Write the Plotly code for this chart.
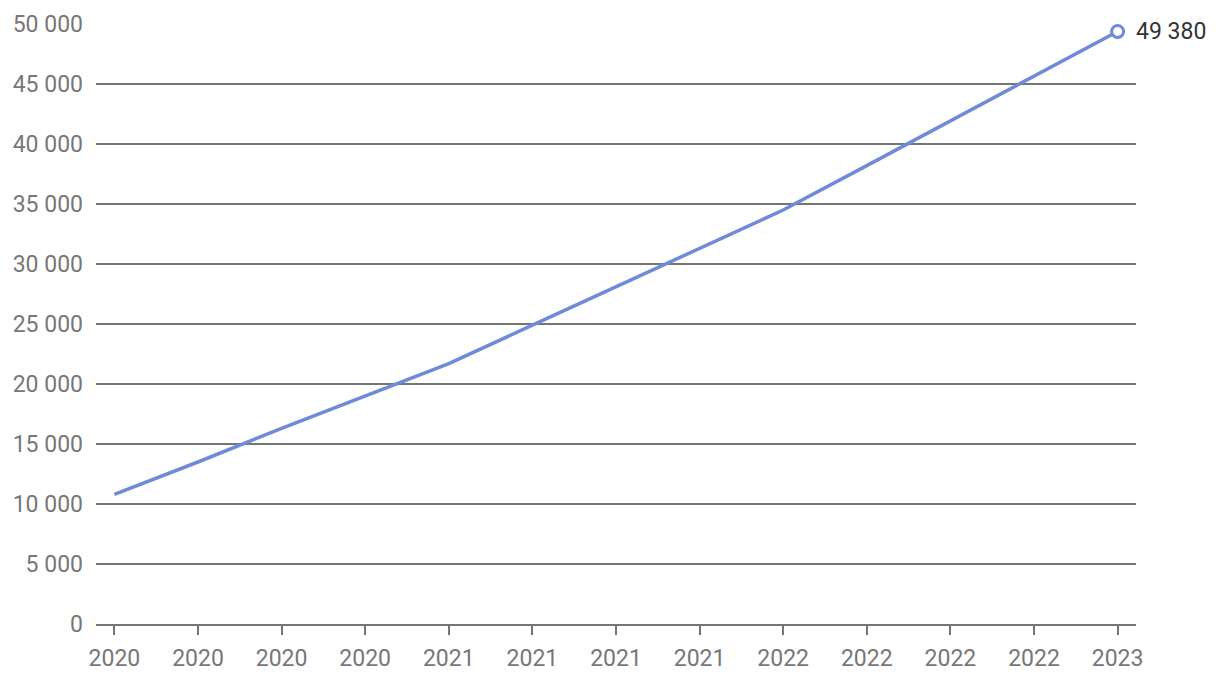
import plotly.graph_objects as go

# quarterly values
quarters = ["2020", "2020", "2020", "2020",
            "2021", "2021", "2021", "2021",
            "2022", "2022", "2022", "2022",
            "2023"]
values = [10800, 13500, 16300, 19000,
          21700, 24900, 28100, 31300,
          34500, 38200, 41950, 45700,
          49380]

line_color = "#6f8ad8"
grid_color = "#757575"
tick_font = dict(family="Roboto", size=23, color="#777777")

xs = list(range(len(values)))

fig = go.Figure()
fig.add_trace(go.Scatter(
    x=xs, y=values, mode="lines",
    line=dict(color=line_color, width=3.5),
    hoverinfo="skip", showlegend=False,
))
# end point marker
fig.add_trace(go.Scatter(
    x=[xs[-1]], y=[values[-1]], mode="markers",
    marker=dict(size=12, color="white", line=dict(color=line_color, width=3)),
    cliponaxis=False, showlegend=False, hoverinfo="skip",
))
fig.add_annotation(
    x=xs[-1], y=values[-1],
    text=f"{values[-1]:,}".replace(",", " "),
    showarrow=False, xanchor="left", xshift=16,
    font=dict(family="Roboto", size=23, color="#333333"),
)

# page body has an 8px margin, so the figure is drawn 8px smaller
fig.update_layout(
    width=1212, height=676,
    margin=dict(l=88, r=84, t=16, b=60),
    plot_bgcolor="white", paper_bgcolor="white",
    separators=". ",
    font=tick_font,
)
fig.update_xaxes(
    range=[-0.22, 12.22],
    tickvals=xs, ticktext=quarters,
    ticks="outside", ticklen=9, tickwidth=2, tickcolor=grid_color,
    showgrid=False, zeroline=False,
    showline=True, linecolor=grid_color, linewidth=2,
    ticklabelstandoff=3,
    tickfont=tick_font, automargin=False,
)
fig.update_yaxes(
    range=[0, 50000], dtick=5000, tickformat=",d",
    showgrid=True, gridcolor=grid_color, gridwidth=2,
    zeroline=False, showline=False,
    ticks="", ticklabelstandoff=12,
    tickfont=tick_font, automargin=False,
)

fig.write_html("out.html")
